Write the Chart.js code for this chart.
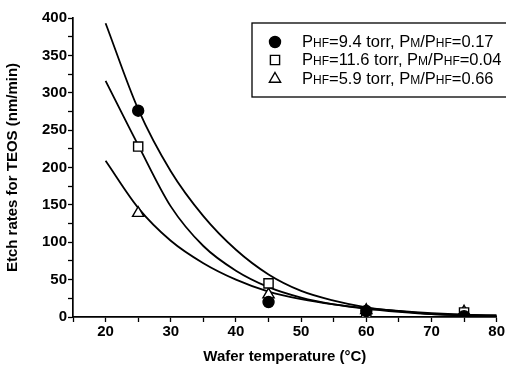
<!DOCTYPE html>
<html>
<head>
<meta charset="utf-8">
<script src="https://cdn.jsdelivr.net/npm/chart.js@4.4.1/dist/chart.umd.min.js"></script>
<style>
html,body{margin:0;padding:0;background:#fff;}
#wrap{width:506px;height:370px;position:relative;}
</style>
</head>
<body>
<div id="wrap"><canvas id="c" width="506" height="370"></canvas></div>
<script>
// ---- data ----
const measuredTemps = [25, 45, 60, 75];
const rateHF94 = [276, 20, 8, 1];      // filled circles
const rateHF116 = [228, 45, 5, 6];     // open squares
const rateHF59 = [139, 30, 9, 7];      // open triangles

const fitTemps = [20, 25, 30, 35, 40, 45, 50, 55, 60, 65, 70, 75, 80];
const fitHF94 = [393, 278, 195, 135, 90, 57, 35, 22, 13, 8, 4, 2, 1];
const fitHF116 = [316, 230, 148, 95, 62, 40, 26, 17, 11, 7, 4, 3, 2];
const fitHF59 = [209, 146, 102, 72, 50, 34, 24, 17, 12, 8, 5, 3, 2];

const seriesLabels = [
  'PHF=9.4 torr, PM/PHF=0.17',
  'PHF=11.6 torr, PM/PHF=0.04',
  'PHF=5.9 torr, PM/PHF=0.66'
];
const xTickLabels = [20, 30, 40, 50, 60, 70, 80];
const yTickLabels = [0, 50, 100, 150, 200, 250, 300, 350, 400];

const toXY = (xs, ys) => xs.map((x, i) => ({x: x, y: ys[i]}));
const FONT = "'Liberation Sans', Arial, sans-serif";

const markerStyles = [
  {pointStyle: 'circle', radius: 5.5, fill: '#000'},
  {pointStyle: 'rect', radius: 6.5, fill: '#fff'},
  {pointStyle: 'triangle', radius: 6.5, fill: '#fff'}
];

const lineDs = (ys) => ({
  type: 'line', data: toXY(fitTemps, ys), showLine: true,
  borderColor: '#000', borderWidth: 1.8, pointRadius: 0, tension: 0.4,
  cubicInterpolationMode: 'monotone', fill: false, order: 2
});
const markDs = (ys, i) => ({
  type: 'scatter', label: seriesLabels[i], data: toXY(measuredTemps, ys),
  pointStyle: markerStyles[i].pointStyle, pointRadius: markerStyles[i].radius,
  backgroundColor: markerStyles[i].fill, borderColor: '#000', borderWidth: 1.4,
  showLine: false, order: 1
});

// custom legend with subscripts
function drawRich(ctx, text, x, y, size) {
  const parts = text.split(/(P(?:HF|M))/);
  let cx = x;
  parts.forEach(p => {
    if (!p) return;
    const m = p.match(/^P(HF|M)$/);
    if (m) {
      ctx.font = size + 'px ' + FONT;
      ctx.fillText('P', cx, y); cx += ctx.measureText('P').width;
      ctx.font = Math.round(size * 0.72) + 'px ' + FONT;
      ctx.fillText(m[1], cx, y + 1.5); cx += ctx.measureText(m[1]).width;
    } else {
      ctx.font = size + 'px ' + FONT;
      ctx.fillText(p, cx, y); cx += ctx.measureText(p).width;
    }
  });
}
const legendPlugin = {
  id: 'customLegend',
  afterDraw(chart) {
    const ctx = chart.ctx;
    ctx.save();
    ctx.strokeStyle = '#000'; ctx.lineWidth = 1.3;
    ctx.strokeRect(252, 23, 262, 74);
    ctx.fillStyle = '#000'; ctx.textBaseline = 'middle';
    const ys = [42, 60, 79];
    seriesLabels.forEach((lab, i) => {
      const st = markerStyles[i];
      ctx.lineWidth = 1.4; ctx.strokeStyle = '#000';
      ctx.fillStyle = st.fill;
      Chart.helpers.drawPoint(ctx, {pointStyle: st.pointStyle, radius: st.radius, rotation: 0, borderWidth: 1.4}, 275, ys[i]);
      ctx.fillStyle = '#000';
      drawRich(ctx, lab, 302, ys[i], 16.5);
    });
    ctx.restore();
  }
};

new Chart(document.getElementById('c'), {
  data: {
    datasets: [
      lineDs(fitHF94), lineDs(fitHF116), lineDs(fitHF59),
      markDs(rateHF94, 0), markDs(rateHF116, 1), markDs(rateHF59, 2)
    ]
  },
  options: {
    responsive: false, animation: false,
    layout: {padding: {top: 18, right: 9, left: 0, bottom: 0}},
    plugins: {legend: {display: false}, tooltip: {enabled: false}},
    scales: {
      x: {
        type: 'linear', min: 15, max: 80,
        afterFit: s => { s.height = 53; },
        afterBuildTicks: s => {
          const t = [];
          for (let v = 15; v <= 80; v += 5) t.push({value: v});
          s.ticks = t;
        },
        ticks: {
          color: '#000', font: {family: FONT, size: 15, weight: 'bold'}, padding: 1,
          maxRotation: 0, autoSkip: false,
          callback: v => xTickLabels.includes(v) ? String(v) : ''
        },
        grid: {drawOnChartArea: false, drawTicks: true, tickLength: 5, color: '#000', tickWidth: 1.3},
        border: {display: true, color: '#000', width: 1.7},
        title: {display: true, text: 'Wafer temperature (°C)', color: '#000',
          font: {family: FONT, size: 15, weight: 'bold'}, padding: {top: 4}}
      },
      y: {
        type: 'linear', min: 0, max: 400,
        afterFit: s => { s.width = 73; },
        afterBuildTicks: s => {
          const t = [];
          for (let v = 0; v <= 400; v += 25) t.push({value: v});
          s.ticks = t;
        },
        ticks: {color: '#000', font: {family: FONT, size: 15, weight: 'bold'}, padding: 1,
          autoSkip: false,
          callback: v => yTickLabels.includes(v) ? String(v) : ''},
        grid: {drawOnChartArea: false, drawTicks: true, tickLength: 5, color: '#000', tickWidth: 1.3},
        border: {display: true, color: '#000', width: 1.7},
        title: {display: true, text: 'Etch rates for TEOS (nm/min)', color: '#000',
          font: {family: FONT, size: 15, weight: 'bold'}, padding: {bottom: 2}}
      }
    }
  },
  plugins: [legendPlugin]
});
</script>
</body>
</html>
